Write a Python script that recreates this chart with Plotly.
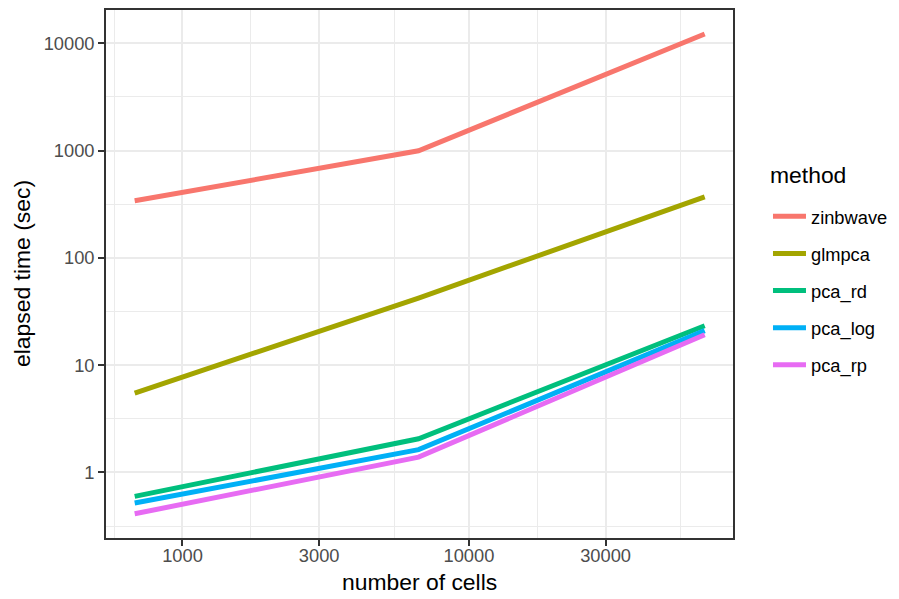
import plotly.graph_objects as go

# Number of cells in each subsample
n_cells = [681, 6670, 66550]

# Elapsed time (seconds) per method
methods = ["zinbwave", "glmpca", "pca_rd", "pca_log", "pca_rp"]
zinbwave = [340, 995, 12200]
glmpca = [5.49, 42.2, 370]
pca_rd = [0.598, 2.06, 23.3]
pca_log = [0.519, 1.63, 21.0]
pca_rp = [0.412, 1.39, 19.2]

x_ticks = [1000, 3000, 10000, 30000]
x_ticktext = ["1000", "3000", "10000", "30000"]
y_ticks = [1, 10, 100, 1000, 10000]
y_ticktext = ["1", "10", "100", "1000", "10000"]

colors = ["#F8766D", "#A3A500", "#00BF7D", "#00B0F6", "#E76BF3"]
series = [zinbwave, glmpca, pca_rd, pca_log, pca_rp]

fig = go.Figure()
for name, vals, col in zip(methods, series, colors):
    fig.add_trace(go.Scatter(
        x=n_cells, y=vals, mode="lines", name=name,
        legendgroup=name,
        line=dict(color=col, width=5),
    ))

font = "Liberation Sans, Arial, sans-serif"
grid = "#EBEBEB"
border = "#333333"

fig.update_layout(
    width=899, height=599,
    margin=dict(l=106, r=166, t=10, b=61, autoexpand=False),
    paper_bgcolor="white", plot_bgcolor="white",
    font=dict(family=font, color="black"),
    showlegend=True,
    legend=dict(
        font=dict(size=18.3, color="black"),
        x=1.0558, xanchor="left", y=0.644, yanchor="top",
        tracegroupgap=10.3,
        itemwidth=33,
        bgcolor="rgba(0,0,0,0)",
    ),
    xaxis=dict(
        type="log", range=[2.733, 4.922],
        tickmode="array", tickvals=x_ticks, ticktext=x_ticktext,
        tickfont=dict(size=18.3, color="#4D4D4D"),
        ticks="outside", ticklen=5.7, tickwidth=2.2, tickcolor=border,
        ticklabelstandoff=-6,
        showgrid=True, gridcolor=grid, gridwidth=2.2,
        showline=True, linecolor=border, linewidth=2.2, mirror=True,
        zeroline=False,
        minor=dict(tickmode="array", tickvals=[577, 1732, 5477, 17321, 54772],
                   showgrid=True, gridcolor=grid, gridwidth=1.1, ticks=""),
    ),
    yaxis=dict(
        type="log", range=[-0.611, 4.31],
        tickmode="array", tickvals=y_ticks, ticktext=y_ticktext,
        tickfont=dict(size=18.3, color="#4D4D4D"),
        ticks="outside", ticklen=5.7, tickwidth=2.2, tickcolor=border,
        showgrid=True, gridcolor=grid, gridwidth=2.2,
        showline=True, linecolor=border, linewidth=2.2, mirror=True,
        zeroline=False,
        minor=dict(tickmode="array", tickvals=[0.3162, 3.162, 31.62, 316.2, 3162],
                   showgrid=True, gridcolor=grid, gridwidth=1.1, ticks=""),
    ),
    annotations=[
        dict(text="number of cells", xref="paper", yref="paper",
             x=0.5, y=0, yshift=-44, xanchor="center", yanchor="middle",
             showarrow=False, font=dict(size=22.9, color="black")),
        dict(text="elapsed time (sec)", xref="paper", yref="paper",
             x=0, xshift=-84, y=0.5, xanchor="center", yanchor="middle",
             textangle=-90, showarrow=False, font=dict(size=22.9, color="black")),
        dict(text="method", xref="paper", yref="paper",
             x=0, xshift=662, y=1, yshift=-165, xanchor="left", yanchor="middle",
             showarrow=False, font=dict(size=22.9, color="black")),
    ],
)

fig.write_html("out.html")
